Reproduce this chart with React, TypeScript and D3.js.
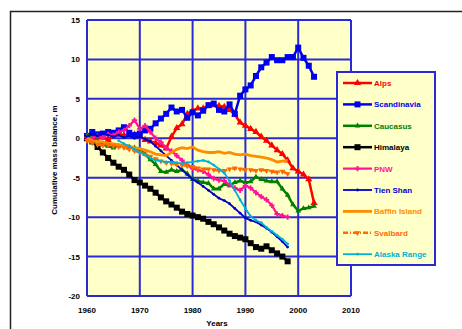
import React, { useEffect, useRef } from 'react';
import * as d3 from 'd3';

// cumulative mass balance (m), one value per year from each series' start year
const alps = [0, 0.4, 0.2, 0.1, -0.2, 0.3, 0.5, 0.4, 0.3, 0.5, 0.3, -0.2, -0.4, -0.6, -0.9, -1.3, 0.2, 1.3, 1.8, 3.1, 3.5, 3.8, 3.8, 4.1, 4.2, 4.1, 4.0, 3.6, 3.0, 2.0, 1.6, 1.2, 0.8, 0.2, -0.3, -0.9, -1.5, -2.0, -2.8, -3.8, -4.2, -4.6, -5.2, -8.2];
const scandinavia = [0.3, 0.8, 0.5, 0.6, 0.8, 0.7, 1.0, 1.4, 0.7, 0.4, 0.6, 1.0, 1.2, 1.9, 2.5, 3.1, 3.9, 3.4, 3.6, 2.6, 3.3, 2.9, 3.5, 4.2, 4.4, 3.6, 3.4, 4.3, 3.1, 5.4, 6.2, 6.7, 7.9, 9.0, 9.6, 10.3, 9.9, 9.9, 10.3, 10.3, 11.5, 10.2, 9.2, 7.8];
const caucasus = [0.4, 0.2, -0.3, -0.8, -1.0, -1.2, -1.0, -0.9, -1.1, -1.2, -1.5, -2.0, -2.7, -3.3, -4.2, -4.3, -4.0, -4.2, -4.0, -4.5, -5.2, -5.4, -5.6, -5.7, -6.4, -6.4, -5.8, -6.0, -5.6, -5.4, -5.6, -5.5, -4.9, -5.2, -5.4, -5.5, -5.5, -6.4, -7.2, -8.4, -9.2, -8.9, -8.8, -8.6];
const himalaya = [0, -0.4, -1.1, -1.8, -2.5, -3.1, -3.6, -4.0, -4.6, -5.3, -5.6, -6.0, -6.4, -6.9, -7.5, -8.0, -8.4, -8.8, -9.3, -9.6, -9.8, -10.0, -10.2, -10.6, -10.9, -11.3, -11.7, -12.1, -12.4, -12.6, -12.8, -13.3, -13.8, -14.0, -13.7, -14.2, -14.6, -15.0, -15.6];
const pnw = [0.1, 0.0, 0.3, 0.1, 0.5, 0.4, 0.8, 1.0, 1.6, 2.3, 1.2, 1.6, 0.8, 0.0, -0.5, -1.2, -1.6, -2.2, -2.8, -3.4, -3.8, -4.0, -4.2, -4.6, -5.1, -5.3, -5.4, -5.9, -6.3, -6.6, -6.0, -6.3, -6.9, -7.4, -7.8, -8.5, -9.6, -9.8, -10.0];
const tienShan = [0.2, 0.5, 0.3, 0.6, 0.4, 0.2, 0.4, 0.1, 0.3, 0.0, 0.2, -0.1, -0.4, -1.0, -1.6, -2.2, -2.8, -3.4, -4.0, -4.6, -5.2, -5.6, -6.1, -6.6, -7.1, -7.6, -7.9, -8.3, -8.9, -9.5, -10.1, -10.4, -10.6, -11.0, -11.4, -11.9, -12.5, -13.1, -13.8];
const baffin = [0, -0.3, -0.4, -0.5, -0.6, -0.7, -0.8, -0.9, -1.0, -1.2, -1.3, -1.5, -1.7, -2.0, -2.1, -2.2, -1.8, -1.4, -1.2, -1.3, -1.1, -1.5, -1.7, -1.8, -1.8, -1.7, -1.9, -1.8, -2.0, -2.1, -2.0, -2.2, -2.3, -2.4, -2.5, -2.7, -3.0, -2.9, -2.8];
const svalbard = [-0.3, -0.6, -0.8, -0.9, -0.8, -1.0, -1.1, -1.2, -1.4, -1.6, -1.8, -2.0, -2.3, -2.6, -2.9, -3.1, -3.2, -3.3, -3.4, -3.5, -3.6, -3.8, -3.9, -3.9, -4.0, -4.1, -4.1, -3.9, -3.8, -3.9, -4.0, -4.0, -4.1, -4.0, -4.1, -4.2, -4.3, -4.2, -4.5];
const alaska = [-0.3, -0.7, -1.0, -1.4, -1.8, -2.1, -2.5, -2.8, -2.9, -3.0, -3.0, -3.1, -3.2, -3.1, -3.0, -2.9, -2.8, -3.0, -3.4, -3.9, -4.4, -5.4, -6.6, -7.8, -8.9, -9.9, -10.4, -10.7, -11.3, -11.8, -12.3, -12.8, -13.4];

const seriesNames = ['Alps', 'Scandinavia', 'Caucasus', 'Himalaya', 'PNW', 'Tien Shan', 'Baffin Island', 'Svalbard', 'Alaska Range'];
const startYears = [1960, 1960, 1960, 1960, 1960, 1960, 1960, 1960, 1966];
const seriesValues = [alps, scandinavia, caucasus, himalaya, pnw, tienShan, baffin, svalbard, alaska];

const xTicks = [1960, 1970, 1980, 1990, 2000, 2010];
const yTicks = [15, 10, 5, 0, -5, -10, -15, -20];

const styles = [
  { color: '#ff0000', width: 2.5, marker: 'triangle', dash: null },
  { color: '#0000f0', width: 2.5, marker: 'square', dash: null },
  { color: '#008000', width: 2.5, marker: 'smalltri', dash: null },
  { color: '#000000', width: 2.5, marker: 'square', dash: null },
  { color: '#ff1493', width: 2.2, marker: 'cross', dash: null },
  { color: '#0000cc', width: 1.8, marker: 'dot', dash: null },
  { color: '#ff8c00', width: 2.8, marker: 'none', dash: null },
  { color: '#ff6a00', width: 2.5, marker: 'tridown', dash: '5,2,1,2' },
  { color: '#00b0d8', width: 1.8, marker: 'dot', dash: null },
];

const W = 462;
const H = 329;
const plot = { left: 87, right: 351, top: 20, bottom: 296 };
const gridBlue = '#2a2ad4';
const paper = '#ffffc8';
const font = 'Liberation Sans, Arial, sans-serif';

function addMarker(g: any, kind: string, x: number, y: number, color: string) {
  if (kind === 'square') {
    g.append('rect').attr('x', x - 3).attr('y', y - 3).attr('width', 6).attr('height', 6).attr('fill', color);
  } else if (kind === 'none') {
    return;
  } else {
    const type =
      kind === 'cross' ? d3.symbolCross :
      kind === 'dot' ? d3.symbolCircle :
      d3.symbolTriangle;
    const size = kind === 'triangle' ? 22 : kind === 'dot' ? 6 : kind === 'cross' ? 16 : 14;
    const rot = kind === 'tridown' ? 180 : 0;
    g.append('path')
      .attr('d', d3.symbol().type(type).size(size)())
      .attr('transform', `translate(${x},${y}) rotate(${rot})`)
      .attr('fill', color);
  }
}

export default function App() {
  const ref = useRef<SVGSVGElement>(null);

  useEffect(() => {
    const svg = d3.select(ref.current);
    svg.selectAll('*').remove();

    const x = d3.scaleLinear().domain([1960, 2010]).range([plot.left, plot.right]);
    const y = d3.scaleLinear().domain([-20, 15]).range([plot.bottom, plot.top]);

    // outer frame
    svg.append('rect').attr('x', 10.5).attr('y', 11.5).attr('width', W).attr('height', H)
      .attr('fill', 'white').attr('stroke', '#222').attr('stroke-width', 1.5);

    // plot area
    svg.append('rect').attr('x', plot.left).attr('y', plot.top)
      .attr('width', plot.right - plot.left).attr('height', plot.bottom - plot.top)
      .attr('fill', paper);

    const grid = svg.append('g').attr('stroke', gridBlue).attr('stroke-width', 2);
    xTicks.forEach(t => {
      grid.append('line').attr('x1', x(t)).attr('x2', x(t)).attr('y1', plot.top).attr('y2', plot.bottom);
    });
    yTicks.forEach(t => {
      grid.append('line').attr('x1', plot.left).attr('x2', plot.right).attr('y1', y(t)).attr('y2', y(t));
    });

    // tick labels
    const labels = svg.append('g').attr('font-family', font).attr('font-size', 8).attr('font-weight', 'bold').attr('fill', '#000');
    yTicks.forEach(t => {
      labels.append('text').attr('x', 80).attr('y', y(t) + 3).attr('text-anchor', 'end').text(t);
    });
    xTicks.forEach(t => {
      labels.append('text').attr('x', x(t)).attr('y', 313).attr('text-anchor', 'middle').text(t);
    });
    labels.append('text').attr('x', (plot.left + plot.right) / 2 - 2).attr('y', 326).attr('text-anchor', 'middle').text('Years');
    labels.append('text')
      .attr('transform', `translate(57,${(plot.top + plot.bottom) / 2 + 2}) rotate(-90)`)
      .attr('text-anchor', 'middle')
      .text('Cumulative mass balance, m');

    // series
    const line = d3.line<[number, number]>().x(d => x(d[0])).y(d => y(d[1]));
    seriesValues.forEach((vals, i) => {
      const st = styles[i];
      const pts: [number, number][] = vals.map((v, j) => [startYears[i] + j, v]);
      const g = svg.append('g');
      g.append('path').attr('d', line(pts)).attr('fill', 'none')
        .attr('stroke', st.color).attr('stroke-width', st.width)
        .attr('stroke-dasharray', st.dash);
      pts.forEach(p => addMarker(g, st.marker, x(p[0]), y(p[1]), st.color));
    });

    // legend
    const lg = svg.append('g');
    lg.append('rect').attr('x', 337).attr('y', 72).attr('width', 98).attr('height', 193)
      .attr('fill', paper).attr('stroke', gridBlue).attr('stroke-width', 2);
    seriesNames.forEach((name, i) => {
      const st = styles[i];
      const ly = 83 + i * 21.4;
      lg.append('line').attr('x1', 343).attr('x2', 372).attr('y1', ly).attr('y2', ly)
        .attr('stroke', st.color).attr('stroke-width', st.width).attr('stroke-dasharray', st.dash);
      addMarker(lg, st.marker, 357.5, ly, st.color);
      lg.append('text').attr('x', 374).attr('y', ly + 3).attr('font-family', font)
        .attr('font-size', 8).attr('font-weight', 'bold').attr('fill', st.color).text(name);
    });
  }, []);

  return (
    <svg ref={ref} width={W} height={H} style={{ position: 'absolute', left: 0, top: 0, background: 'white' }} />
  );
}
